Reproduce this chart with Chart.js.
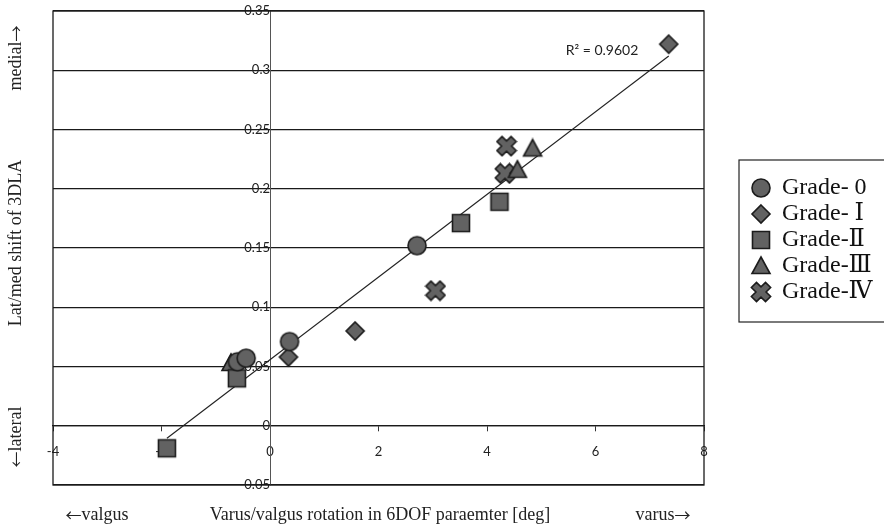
<!DOCTYPE html>
<html>
<head>
<meta charset="utf-8">
<script src="https://cdn.jsdelivr.net/npm/chart.js@4.4.1/dist/chart.umd.min.js"></script>
<style>
  body { margin: 0; background: #fff; }
  #wrap { position: relative; width: 884px; height: 530px; }
</style>
</head>
<body>
<div id="wrap"><canvas id="chart" width="884" height="530"></canvas></div>
<script>
// values
const seriesNames = ['Grade- 0', 'Grade- \u2160', 'Grade-\u2161', 'Grade-\u2162', 'Grade-\u2163'];
const grade0X = [-0.60, -0.44, 0.36, 2.71];
const grade0Y = [0.054, 0.057, 0.071, 0.152];
const grade1X = [0.34, 1.57, 7.35];
const grade1Y = [0.058, 0.080, 0.322];
const grade2X = [-1.90, -0.61, 3.52, 4.23];
const grade2Y = [-0.019, 0.040, 0.171, 0.189];
const grade3X = [-0.72, 4.56, 4.84];
const grade3Y = [0.053, 0.216, 0.234];
const grade4X = [3.05, 4.33, 4.36];
const grade4Y = [0.114, 0.213, 0.236];
// linear trendline ends (as drawn in the figure)
const trendX = [-1.90, 7.35];
const trendY = [-0.0105, 0.312];
const rSquared = 'R\u00B2 = 0.9602';

const xTicks = [-4, -2, 0, 2, 4, 6, 8];
const xTickLabels = ['-4', '-2', '0', '2', '4', '6', '8'];
const yTicks = [-0.05, 0, 0.05, 0.1, 0.15, 0.2, 0.25, 0.3, 0.35];
const yTickLabels = ['-0.05', '0', '0.05', '0.1', '0.15', '0.2', '0.25', '0.3', '0.35'];

const pts = (xs, ys) => xs.map((x, i) => ({x: x, y: ys[i]}));

const FILL = '#626262';
const EDGE = '#1c1c1c';

function marker(shape) {
    const s = 22;
    const c = document.createElement('canvas');
    c.width = s; c.height = s;
    const g = c.getContext('2d');
    g.translate(s / 2, s / 2);
    g.beginPath();
    if (shape === 'circle') {
        g.arc(0, 0, 9, 0, Math.PI * 2);
    } else if (shape === 'diamond') {
        g.moveTo(0, -9); g.lineTo(9, 0); g.lineTo(0, 9); g.lineTo(-9, 0);
    } else if (shape === 'square') {
        g.rect(-8.5, -8.5, 17, 17);
    } else if (shape === 'triangle') {
        g.moveTo(0, -9); g.lineTo(9, 7.5); g.lineTo(-9, 7.5);
    } else {
        const L = 10, w = 3.6;
        const p = [[w, L], [w, w], [L, w], [L, -w], [w, -w], [w, -L], [-w, -L], [-w, -w], [-L, -w], [-L, w], [-w, w], [-w, L]];
        const a = Math.PI / 4;
        p.forEach(([x, y], i) => {
            const rx = x * Math.cos(a) - y * Math.sin(a);
            const ry = x * Math.sin(a) + y * Math.cos(a);
            if (i === 0) g.moveTo(rx, ry); else g.lineTo(rx, ry);
        });
    }
    g.closePath();
    g.fillStyle = FILL;
    g.fill();
    g.lineWidth = 1.6;
    g.strokeStyle = EDGE;
    g.stroke();
    return c;
}

const shapes = ['circle', 'diamond', 'square', 'triangle', 'cross'];
const allX = [grade0X, grade1X, grade2X, grade3X, grade4X];
const allY = [grade0Y, grade1Y, grade2Y, grade3Y, grade4Y];

const datasets = seriesNames.map((name, i) => ({
    label: name,
    data: pts(allX[i], allY[i]),
    pointStyle: marker(shapes[i]),
    pointRadius: 10,
    backgroundColor: FILL,
    borderColor: EDGE
}));
datasets.push({
    type: 'line',
    label: '',
    data: pts(trendX, trendY),
    borderColor: '#222',
    borderWidth: 1.1,
    pointRadius: 0,
    fill: false
});

const serif = '"Liberation Serif", "DejaVu Serif", "Noto Sans CJK JP", serif';
const sans = 'Lato, "Open Sans", sans-serif';
const titleFont = '18px ' + serif;
const arrowFont = '16px "Noto Sans CJK JP"';

// draw text pieces in different fonts, centred on (cx, cy)
function mixedText(ctx, parts, cx, cy) {
    let w = 0;
    parts.forEach(p => { ctx.font = p[1]; w += ctx.measureText(p[0]).width; });
    let x = cx - w / 2;
    ctx.textAlign = 'left';
    parts.forEach(p => {
        ctx.font = p[1];
        ctx.fillText(p[0], x, cy);
        x += ctx.measureText(p[0]).width;
    });
}

const decorations = {
    id: 'decorations',
    beforeDatasetsDraw(chart) {
        const {ctx, chartArea: a} = chart;
        ctx.save();
        ctx.strokeStyle = '#1a1a1a';
        ctx.lineWidth = 1.3;
        ctx.strokeRect(a.left, a.top, a.right - a.left, a.bottom - a.top);
        ctx.restore();
    },
    afterDraw(chart) {
        const {ctx} = chart;
        ctx.save();
        ctx.fillStyle = '#222';
        ctx.textBaseline = 'middle';
        ctx.textAlign = 'center';

        // R squared label
        ctx.font = '14px ' + sans;
        ctx.fillText(rSquared, 602, 50);

        // axis titles
        ctx.font = titleFont;
        ctx.fillText('Varus/valgus rotation in 6DOF paraemter [deg]', 380, 515);
        mixedText(ctx, [['\u2190', arrowFont], ['valgus', titleFont]], 97, 515);
        mixedText(ctx, [['varus', titleFont], ['\u2192', arrowFont]], 663, 515);

        ctx.save();
        ctx.translate(16, 0);
        ctx.rotate(-Math.PI / 2);
        ctx.textAlign = 'center';
        ctx.font = titleFont;
        ctx.fillText('Lat/med shift of 3DLA', -243, 0);
        mixedText(ctx, [['medial', titleFont], ['\u2192', arrowFont]], -58, 0);
        mixedText(ctx, [['\u2190', arrowFont], ['lateral', titleFont]], -437, 0);
        ctx.restore();

        // legend frame
        const lg = chart.legend;
        if (lg && lg.legendHitBoxes.length) {
            const hb = lg.legendHitBoxes;
            const top = Math.min(...hb.map(h => h.top));
            const bottom = Math.max(...hb.map(h => h.top + h.height));
            const left = Math.min(...hb.map(h => h.left));
            ctx.strokeStyle = '#222';
            ctx.lineWidth = 1.2;
            ctx.strokeRect(left - 13, top - 16, chart.width, bottom - top + 34);
        }
        ctx.restore();
    }
};

new Chart(document.getElementById('chart'), {
    type: 'scatter',
    data: { datasets: datasets },
    options: {
        responsive: false,
        animation: false,
        layout: { padding: { left: 53, top: 9, bottom: 45, right: 1.4 } },
        plugins: {
            legend: {
                position: 'right',
                align: 'start',
                title: { display: true, text: '', font: { size: 10 }, padding: { top: 0, bottom: 153 } },
                labels: {
                    usePointStyle: true,
                    pointStyleWidth: 18,
                    padding: 2,
                    color: '#111',
                    font: { family: serif, size: 24 },
                    filter: item => item.text !== ''
                }
            },
            tooltip: { enabled: false }
        },
        scales: {
            x: {
                type: 'linear',
                position: { y: 0 },
                min: -4,
                max: 8,
                afterBuildTicks: s => { s.ticks = xTicks.map(v => ({value: v})); },
                ticks: {
                    padding: 13,
                    color: '#222',
                    font: { family: sans, size: 13 },
                    callback: (v, i) => xTickLabels[i]
                },
                grid: { drawOnChartArea: false, drawTicks: true, tickLength: 5, color: '#333' },
                border: { display: true, color: '#1a1a1a', width: 1.3 }
            },
            y: {
                type: 'linear',
                position: { x: 0 },
                min: -0.05,
                max: 0.35,
                afterBuildTicks: s => { s.ticks = yTicks.map(v => ({value: v})); },
                afterFit: s => { s.paddingTop = 0; s.paddingBottom = 0; },
                ticks: {
                    padding: 13,
                    color: '#222',
                    font: { family: sans, size: 13 },
                    callback: (v, i) => yTickLabels[i]
                },
                grid: { drawTicks: false, color: '#1a1a1a', lineWidth: 1.3 },
                border: { display: true, color: '#555', width: 1 }
            },
            gap: {
                type: 'linear',
                position: 'right',
                display: true,
                grid: { display: false },
                ticks: { display: false },
                border: { display: false },
                afterFit: s => { s.width = 46; }
            }
        }
    },
    plugins: [decorations]
});
</script>
</body>
</html>
